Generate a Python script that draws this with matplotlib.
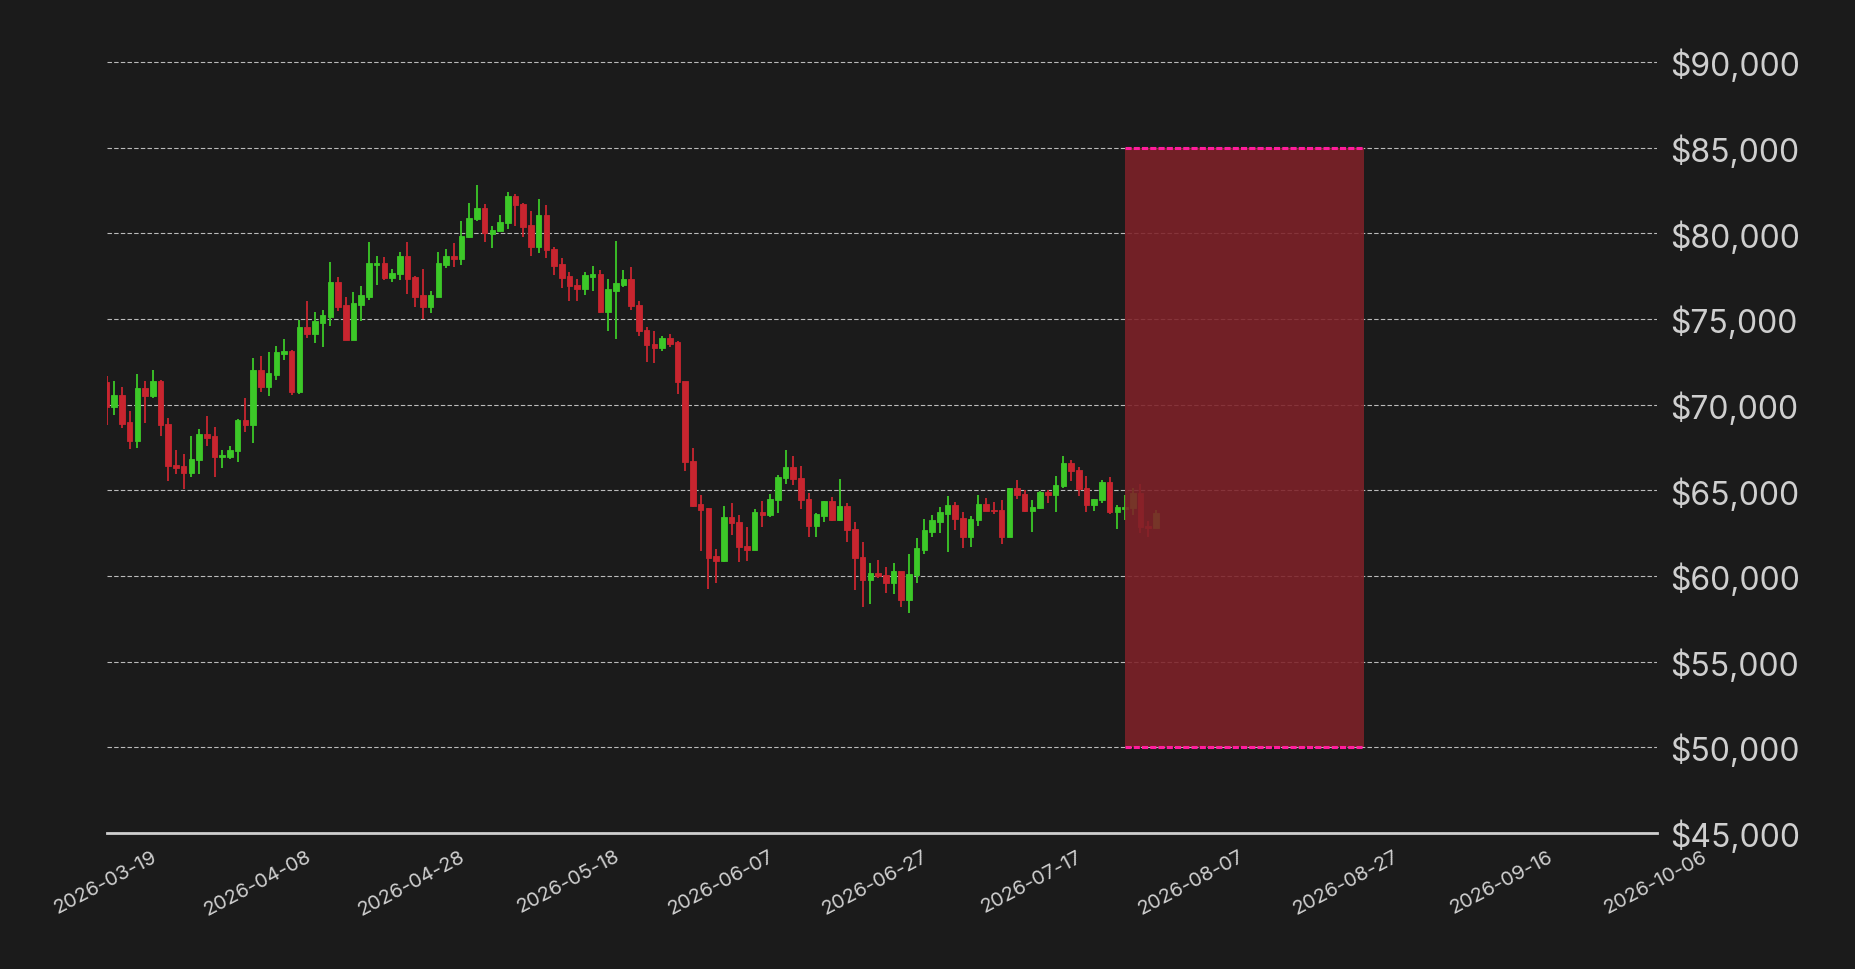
import matplotlib
matplotlib.use("Agg")
import matplotlib.pyplot as plt
import matplotlib.dates as mdates
import matplotlib.transforms as mtransforms
import numpy as np
import pandas as pd
from matplotlib.ticker import FuncFormatter

plt.rcParams["font.family"] = ["Inter", "DejaVu Sans"]

start_date = "2026-03-19"
opens = [71300,69920,70540,68970,67890,70950,70540,71350,68850,66470,66410,66030,66800,68270,68150,66960,67000,67300,69090,68870,
         71990,71080,71780,73000,73100,70790,74490,74170,74800,75150,77110,75770,73820,75850,76320,78180,78270,77420,77650,78680,
         77400,76350,75740,76320,78180,78680,78530,79800,80850,81470,80000,80150,80620,82170,81700,80480,79220,81060,79090,78160,
         77460,76990,76780,77460,77580,75440,76670,77010,77290,75790,74340,73530,73350,73860,73620,71340,66660,64150,63910,61120,
         60910,63390,63120,61720,61530,63700,63580,64490,65770,66350,65680,64440,62940,63560,64320,63290,64030,62710,61080,59800,
         60130,60040,59630,60250,58640,60080,61550,62600,63180,63640,64090,63350,62300,63270,64200,63850,63820,62300,65080,64750,
         63820,63970,64900,64750,65310,66590,66140,65080,64170,64440,65480,63760,63930,63970,64790,62890,62830]
closes = [69920,70540,68930,67890,70950,70540,71350,68820,66430,66350,66030,66820,68270,68100,66950,67050,67340,69090,68870,71990,
          71080,71820,73040,73100,70790,74490,74170,74840,75190,77110,75740,73820,75890,76350,78220,78270,77420,77690,78680,77360,
          76320,75740,76350,78220,78680,78530,79840,80890,81470,80040,80190,80660,82170,81670,80420,79220,81060,79050,78120,77420,
          76960,76780,77520,77580,75440,76700,77050,77290,75790,74340,73530,73350,73860,73580,71340,66660,64110,63870,61080,60910,
          63390,63120,61720,61530,63680,63580,64490,65770,66350,65680,64440,62940,63560,64320,63290,64030,62710,61080,59800,60130,
          60040,59630,60250,58640,60080,61590,62630,63220,63680,64090,63350,62300,63270,64200,63820,63820,62300,65080,64750,63820,
          63970,64900,64750,65310,66590,66140,65080,64170,64440,65480,63760,63970,63970,64790,62890,62830,63620]
highs = [71650,71410,71060,69610,71820,71410,72050,71470,69200,67340,67110,68160,68560,69320,68680,67340,67580,69150,70370,72750,
         72870,73100,73450,73860,73220,74960,76060,75420,75540,78330,77460,76300,76590,76940,79490,78680,78620,77920,78910,79490,
         77540,77920,76650,78910,79090,79440,80720,81760,82810,81700,80420,81060,82400,82290,81760,81300,81990,81650,79200,78560,
         77750,77340,77750,78100,77870,77340,79550,77870,78040,76080,74510,74280,74010,74130,73700,71340,67460,64730,63970,61590,
         64090,64260,63560,62870,63910,64380,64780,65870,67340,66990,66410,64840,63680,64380,64610,65660,64260,63160,61990,60770,
         60950,60540,60770,60250,61300,62230,63330,63560,64030,64670,64320,63740,63510,64730,64550,64320,64440,65130,65600,65040,
         64440,64950,65040,65830,66990,66760,66360,65830,64510,65600,65770,64150,64730,65130,65370,63220,63860]
lows = [68820,69400,68620,67400,67480,68930,70400,68180,65560,65970,65080,65790,65970,67600,65790,66320,66840,66670,68410,67770,
        70730,70500,71430,72600,70560,70620,73870,73580,73350,74570,75500,73800,73760,74860,76140,77010,77300,77190,77300,76490,
        75680,74980,75330,76300,78000,78060,78180,79750,80730,79510,79160,80100,80270,80420,79800,78700,78870,78580,77600,76840,
        76030,76080,76430,76670,75330,74280,73820,76900,75560,74010,72480,72420,73120,73350,70620,66140,64050,61430,59220,59570,
        60790,62420,60790,60850,61500,62830,63470,63700,65390,65330,63930,62250,62300,63180,63230,63230,61960,59170,58180,58350,
        59860,58990,58930,58180,57830,59570,61260,62300,62480,61370,62710,61610,61720,62940,63800,63620,61840,62250,64510,63760,
        62540,63930,64280,63760,65130,65560,64690,63760,63820,64280,63640,62770,63290,63580,62480,62300,62800]
shade_start, shade_end = "2026-07-29", "2026-08-29"
shade_low, shade_high = 50000, 85000
tick_labels = ["2026-03-19", "2026-04-08", "2026-04-28", "2026-05-18", "2026-06-07", "2026-06-27",
               "2026-07-17", "2026-08-07", "2026-08-27", "2026-09-16", "2026-10-06"]

dates = pd.date_range(start_date, periods=len(opens), freq="D")
x = mdates.date2num(dates)

BG = "#1b1b1b"
fig = plt.figure(figsize=(18.56, 9.70), dpi=100, facecolor=BG)
ax = fig.add_axes([0.0574, 0.1404, 0.8356, 0.835], facecolor=BG)

o = np.array(opens); c = np.array(closes); h = np.array(highs); l = np.array(lows)
up = c >= o
cols = np.where(up, "#3cc828", "#c8252f")
ax.vlines(x, l, h, colors=cols, linewidth=1.3, zorder=3)
ax.bar(x, np.abs(c - o) + 60, bottom=np.minimum(o, c) - 30, width=0.72, color=cols,
       edgecolor=cols, linewidth=0.6, zorder=4)

xs, xe = mdates.date2num(pd.Timestamp(shade_start)), mdates.date2num(pd.Timestamp(shade_end))
ax.fill_between([xs, xe], shade_low, shade_high, color="#7f2128", alpha=0.88, zorder=5, linewidth=0)
ax.hlines([shade_low, shade_high], xs, xe, colors="#ff1c9c", linewidth=2.2, linestyles=(0, (2, 0.7)), zorder=6)

ax.set_xlim(mdates.date2num(pd.Timestamp("2026-03-19")), mdates.date2num(pd.Timestamp("2026-10-06")))
ax.set_ylim(45000, 92300)
ax.set_yticks(np.arange(45000, 90001, 5000))
ax.yaxis.set_major_formatter(FuncFormatter(lambda v, p: f"${v:,.0f}"))
ax.yaxis.tick_right()
ax.tick_params(axis="y", length=0, labelsize=23, labelcolor="#cfcfcf", pad=9)
ax.grid(axis="y", color="#d8d8d8", linestyle=(0, (4, 2)), linewidth=0.8, alpha=0.85)
ax.set_axisbelow(True)

tick_d = [pd.Timestamp(t) for t in tick_labels]
ax.set_xticks(mdates.date2num(tick_d))
ax.set_xticklabels(tick_labels, rotation=28, ha="right", fontsize=14.5, color="#cfcfcf")
ax.tick_params(axis="x", length=0, pad=10)
offset = mtransforms.ScaledTranslation(0.53, 0, fig.dpi_scale_trans)
for lab in ax.get_xticklabels():
    lab.set_transform(lab.get_transform() + offset)
for s in ["top", "left", "right"]:
    ax.spines[s].set_visible(False)
ax.spines["bottom"].set_color("#cfcfcf")
ax.spines["bottom"].set_linewidth(2)

fig.savefig("out.png", dpi=100, facecolor=BG)
